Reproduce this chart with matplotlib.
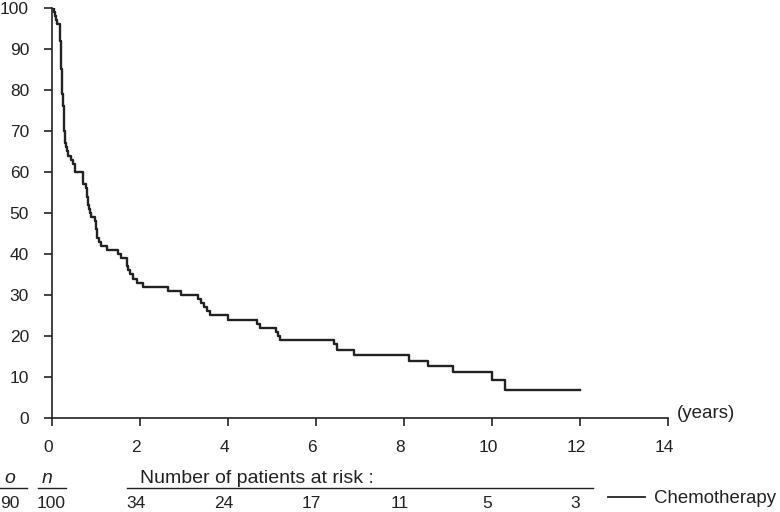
import matplotlib.pyplot as plt
from matplotlib.lines import Line2D
from matplotlib.transforms import blended_transform_factory, ScaledTranslation

plt.rcParams['font.family'] = ['Liberation Sans', 'DejaVu Sans']

# Kaplan-Meier steps (years, % surviving)
times = [0, 0.045, 0.07, 0.09, 0.12, 0.18, 0.19, 0.20, 0.205, 0.215, 0.225,
         0.235, 0.25, 0.265, 0.28, 0.30, 0.31, 0.33, 0.37, 0.43, 0.47, 0.52,
         0.71, 0.77, 0.80, 0.82, 0.84, 0.87, 0.89, 0.97, 1.0, 1.02, 1.06,
         1.12, 1.24, 1.51, 1.57, 1.70, 1.73, 1.78, 1.84, 1.94, 2.06, 2.64,
         2.93, 3.32, 3.38, 3.45, 3.52, 3.58, 4.0, 4.67, 4.72, 5.1, 5.13,
         5.18, 6.4, 6.47, 6.86, 8.12, 8.54, 9.12, 9.99, 10.3, 12.0]
survival = [100, 99, 98, 97, 96, 94, 92, 90, 87, 85, 82,
            79, 76, 73, 70, 67, 66, 65, 64, 63, 62, 60,
            57, 56, 54, 52, 51, 50, 49, 48, 46, 44, 43,
            42, 41, 40, 39, 37, 36, 35, 34, 33, 32, 31,
            30, 29, 28, 27, 26, 25, 24, 23, 22, 21, 20,
            19, 18, 16.6, 15.4, 13.9, 12.7, 11.1, 9.3, 6.8, 6.8]

risk_times = [2, 4, 6, 8, 10, 12]
at_risk = [34, 24, 17, 11, 5, 3]
observed = 90
total = 100
group = 'Chemotherapy'

ink = '#222222'
fig = plt.figure(figsize=(7.8, 5.12), dpi=100)
ax = fig.add_axes([0.0667, 0.1836, 0.7897, 0.8008])

ax.plot(times, survival, drawstyle='steps-post', color=ink, lw=1.7)

ax.set_xlim(0, 14)
ax.set_ylim(0, 100)
ax.set_xticks(range(0, 15, 2))
ax.set_yticks(range(0, 101, 10))
for s in ['top', 'right']:
    ax.spines[s].set_visible(False)
for s in ['left', 'bottom']:
    ax.spines[s].set_linewidth(1.2)
    ax.spines[s].set_color(ink)
ax.tick_params(axis='both', length=5.5, width=1.2, color=ink, labelsize=12.5,
               labelcolor=ink)
ax.tick_params(axis='x', pad=10)
ax.tick_params(axis='y', pad=11)
# labels in the original sit a few pixels left of their ticks
shift = ScaledTranslation(-4 / 100, 0, fig.dpi_scale_trans)
for lab in ax.get_xticklabels():
    lab.set_transform(lab.get_transform() + shift)

ax.text(14.2, 1.2, '(years)', fontsize=13.5, color=ink, va='center', ha='left')

# number at risk table under the plot
tr = blended_transform_factory(ax.transData, fig.transFigure)
ft = fig.transFigure
y_head = (512 - 483) / 512
y_row = (512 - 508) / 512
y_rule = (512 - 488) / 512
fig.text(10 / 780, y_head, 'o', style='italic', fontsize=14, color=ink, ha='center')
fig.text(47 / 780, y_head, 'n', style='italic', fontsize=14, color=ink, ha='center')
fig.text(10 / 780, y_row, str(observed), fontsize=12.5, color=ink, ha='center')
fig.text(51 / 780, y_row, str(total), fontsize=12.5, color=ink, ha='center')
fig.add_artist(Line2D([0, 27 / 780], [y_rule, y_rule], transform=ft, color=ink, lw=1))
fig.add_artist(Line2D([38 / 780, 66 / 780], [y_rule, y_rule], transform=ft, color=ink, lw=1))
fig.add_artist(Line2D([127 / 780, 593 / 780], [y_rule, y_rule], transform=ft, color=ink, lw=1))
fig.text(140 / 780, y_head, 'Number of patients at risk :', fontsize=14, color=ink)
for t, n in zip(risk_times, at_risk):
    ax.text(t - 0.1, y_row, str(n), transform=tr, fontsize=12.5, color=ink,
            ha='center', clip_on=False)

y_leg = (512 - 497) / 512
fig.add_artist(Line2D([608 / 780, 645 / 780], [y_leg, y_leg], transform=ft, color=ink, lw=1.3))
fig.text(654 / 780, (512 - 503) / 512, group, fontsize=13.4, color=ink)

fig.savefig('out.png', dpi=100)
